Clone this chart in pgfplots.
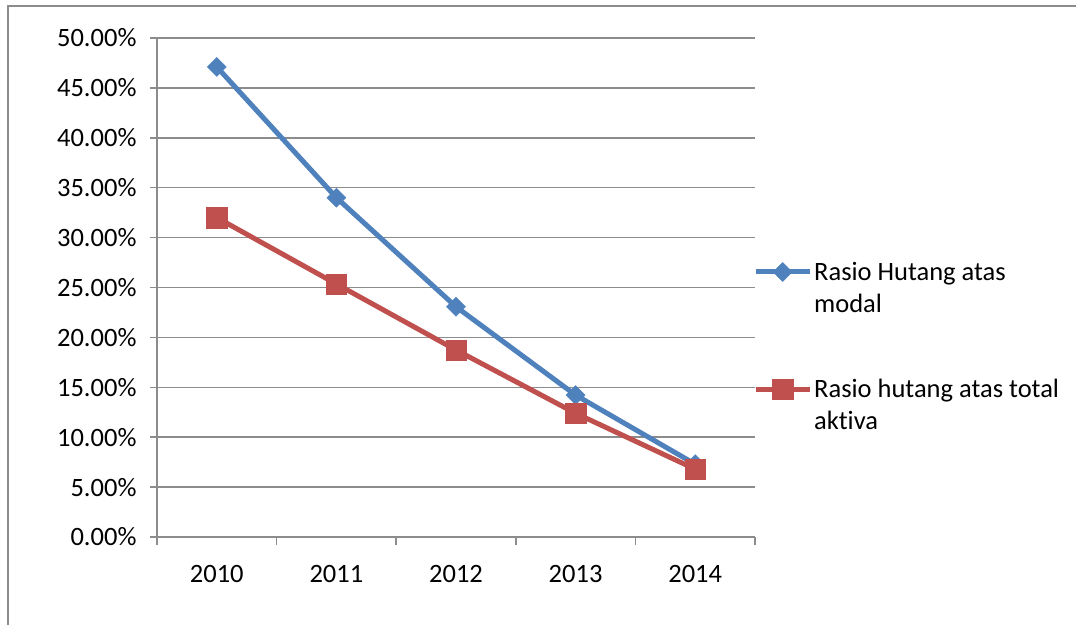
\documentclass[border=0pt]{standalone}
\usepackage{pgfplots}
\pgfplotsset{compat=1.18}
\usepackage{fontspec}
\setmainfont{Carlito}[Ligatures={NoCommon}]
\definecolor{sblue}{HTML}{4F81BD}
\definecolor{sred}{HTML}{C0504D}
\definecolor{gridc}{HTML}{8C8C8C}
\definecolor{framec}{HTML}{8C8C8C}
\newcommand{\cf}{\fontsize{26.5}{32.5}\selectfont}
\begin{document}
\begin{tikzpicture}[x=1pt,y=1pt]
\useasboundingbox (0,0) rectangle (1076,625);
\draw[framec, line width=1.5pt] (8,0) -- (8,619) -- (1076,619);
\begin{axis}[
  at={(157pt,88pt)}, anchor=south west,
  scale only axis, width=598pt, height=499pt,
  xmin=-0.5, xmax=4.5, ymin=0, ymax=50,
  axis x line*=bottom, axis y line*=left,
  axis line style={gridc, line width=1.5pt},
  xtick={0,1,2,3,4}, xticklabels={2010,2011,2012,2013,2014},
  minor xtick={-0.5,0.5,1.5,2.5,3.5,4.5},
  ytick={0,5,...,50},
  yticklabels={0.00\%,5.00\%,10.00\%,15.00\%,20.00\%,25.00\%,30.00\%,35.00\%,40.00\%,45.00\%,50.00\%},
  ymajorgrids, grid style={gridc, line width=1.5pt},
  tick align=outside,
  major tick length=7pt, minor tick length=8pt,
  tick style={gridc, line width=1.5pt},
  major x tick style={draw=none},
  tick label style={font=\cf, text=black},
  xticklabel style={yshift=-18pt},
  yticklabel style={xshift=-10pt},
  clip=false,
  legend style={draw=none, fill=none, at={(0.9916,0.56)}, anchor=north west,
    font=\cf, cells={anchor=base west, align=left}, row sep=61pt,
    /tikz/every even column/.append style={column sep=2pt}},
  legend image code/.code={\draw[mark repeat=2,mark phase=2,#1, yshift=40.5pt] plot coordinates {(0pt,0pt) (27pt,0pt) (54pt,0pt)};},
]
\addplot[sblue, line width=5pt, mark=square*, mark size=6.7pt, mark options={rotate=45, line width=0.5pt, solid}]
  coordinates {(0,47.1) (1,34.0) (2,23.07) (3,14.22) (4,7.3)};
\addlegendentry{Rasio Hutang atas\\modal}
\addplot[sred, line width=5pt, mark=square*, mark size=10.2pt, mark options={line width=0.5pt, solid}]
  coordinates {(0,32.0) (1,25.35) (2,18.74) (3,12.4) (4,6.8)};
\addlegendentry{Rasio hutang atas total\\aktiva}
\end{axis}
\end{tikzpicture}
\end{document}
